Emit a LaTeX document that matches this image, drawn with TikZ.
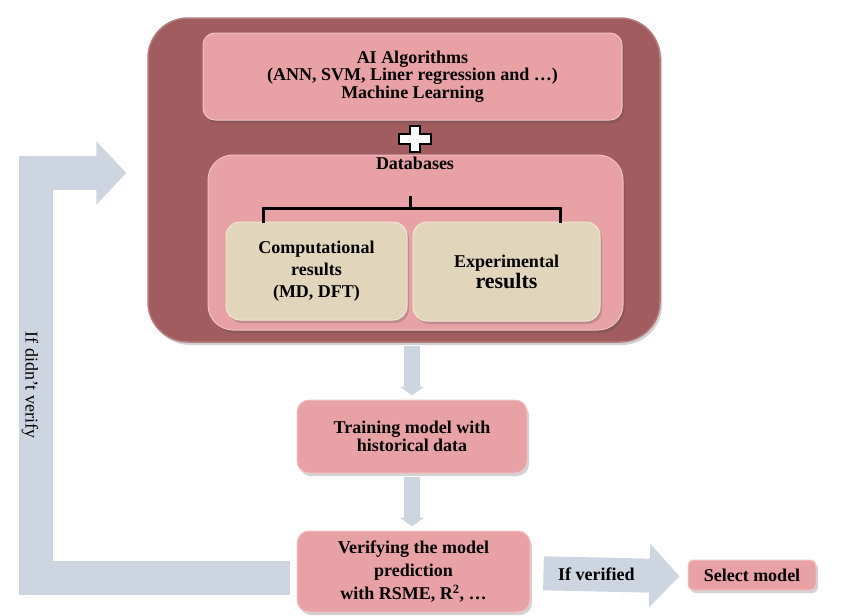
\documentclass[tikz,border=0pt]{standalone}
\usepackage{fontspec}
\setmainfont{Liberation Serif}
\usetikzlibrary{arrows.meta,positioning,calc,shadows}

\definecolor{roseouter}{HTML}{A05C5E}
\definecolor{rosebox}{HTML}{E8A1A5}
\definecolor{roseedge}{HTML}{F2C2C4}
\definecolor{beigebox}{HTML}{E1D5BB}
\definecolor{beigeedge}{HTML}{EFE6D3}
\definecolor{arrowgray}{HTML}{CDD5E0}

\tikzset{
  boxtext/.style={font=\bfseries\fontsize{18}{17.5}\selectfont, align=center},
  softshadow/.style={drop shadow={shadow xshift=2pt, shadow yshift=-3pt, opacity=0.25, fill=black!70}},
  pinkbox/.style={boxtext, rounded corners=12pt, fill=rosebox, draw=roseedge,
    line width=1pt, inner sep=0pt, softshadow},
  beige/.style={boxtext, rounded corners=14pt, fill=beigebox, draw=beigeedge,
    line width=1pt, inner sep=0pt, softshadow},
  flow/.style={draw=arrowgray, line width=16pt, shorten <=3pt, shorten >=4pt,
    -{Triangle[width=24pt, length=9pt]}},
  bigflow/.style={draw=arrowgray, line width=34pt, line join=miter,
    -{Triangle[width=62pt, length=30pt]}},
  bracket/.style={line width=3pt, line join=miter},
}

\begin{document}
\begin{tikzpicture}[x=1pt, y=-1pt]
\useasboundingbox (0,0) rectangle (844,616);

% outer frame and its contents
\node[rounded corners=40pt, fill=roseouter, draw=roseouter!80!white, line width=1.5pt,
  minimum width=512pt, minimum height=324pt, softshadow] (outer) at (404,180) {};
\node[pinkbox, minimum width=419pt, minimum height=87pt] (ai) at (412.5,76.5)
  {AI Algorithms\\(ANN, SVM, Liner regression and \dots)\\Machine Learning};
% plus sign
\begin{scope}[shift={(415,139)}]
\draw[line width=2.5pt, fill=white, line join=miter]
  (-5,-13) -- (5,-13) -- (5,-5) -- (16,-5) -- (16,5) -- (5,5) -- (5,13)
  -- (-5,13) -- (-5,5) -- (-16,5) -- (-16,-5) -- (-5,-5) -- cycle;
\end{scope}
\node[pinkbox, rounded corners=25pt, minimum width=415pt, minimum height=175pt]
  (db) at (415.5,242.5) {};
\node[boxtext] (dblabel) at (415,163) {Databases};
\node[beige, font=\bfseries\fontsize{18}{22}\selectfont, minimum width=181pt,
  minimum height=98pt] (comp) at (316.5,271) {Computational\\results\\(MD, DFT)};
\node[beige, font=\bfseries\fontsize{18}{21}\selectfont, minimum width=187pt,
  minimum height=99pt] (expt) at (506.5,271.5)
  {Experimental\\{\fontsize{22}{21}\selectfont results}};
% bracket
\draw[bracket] ($(comp.north)+(-53.5,1)$) |- (410,208) -| ($(expt.north)+(53.5,1)$);
\draw[bracket] (410,209) -- (410,196);

% lower steps
\node[pinkbox, minimum width=230pt, minimum height=73pt] (train) at (412,436.5)
  {Training model with\\historical data};
\node[pinkbox, font=\bfseries\fontsize{18}{23}\selectfont, minimum width=233pt,
  minimum height=81pt] (verify) at (413.5,571.5)
  {Verifying the model\\prediction\\with RSME, R\textsuperscript{2}, \dots};
\node[pinkbox, rounded corners=6pt, minimum width=128pt, minimum height=30pt]
  (select) at (752,575) {Select model};

\draw[flow] (train.north |- outer.south) -- (train.north);
\draw[flow] (train.south) -- (train.south |- verify.north);
\draw[bigflow, shorten <=13pt, shorten >=8pt] ([yshift=-1.5pt]verify.east) --
  node[boxtext, pos=0.42] (yes) {If verified} ([yshift=-1.5pt]select.west);
\draw[bigflow, line width=34pt, shorten <=7pt, shorten >=21pt]
  ([yshift=-6pt]verify.west) -- ++(-261,0) |- ([yshift=7pt]outer.west);
\node[rotate=-90, font=\fontsize{18}{20}\selectfont] (no) at (30,385) {If didn’t verify};
\end{tikzpicture}
\end{document}
